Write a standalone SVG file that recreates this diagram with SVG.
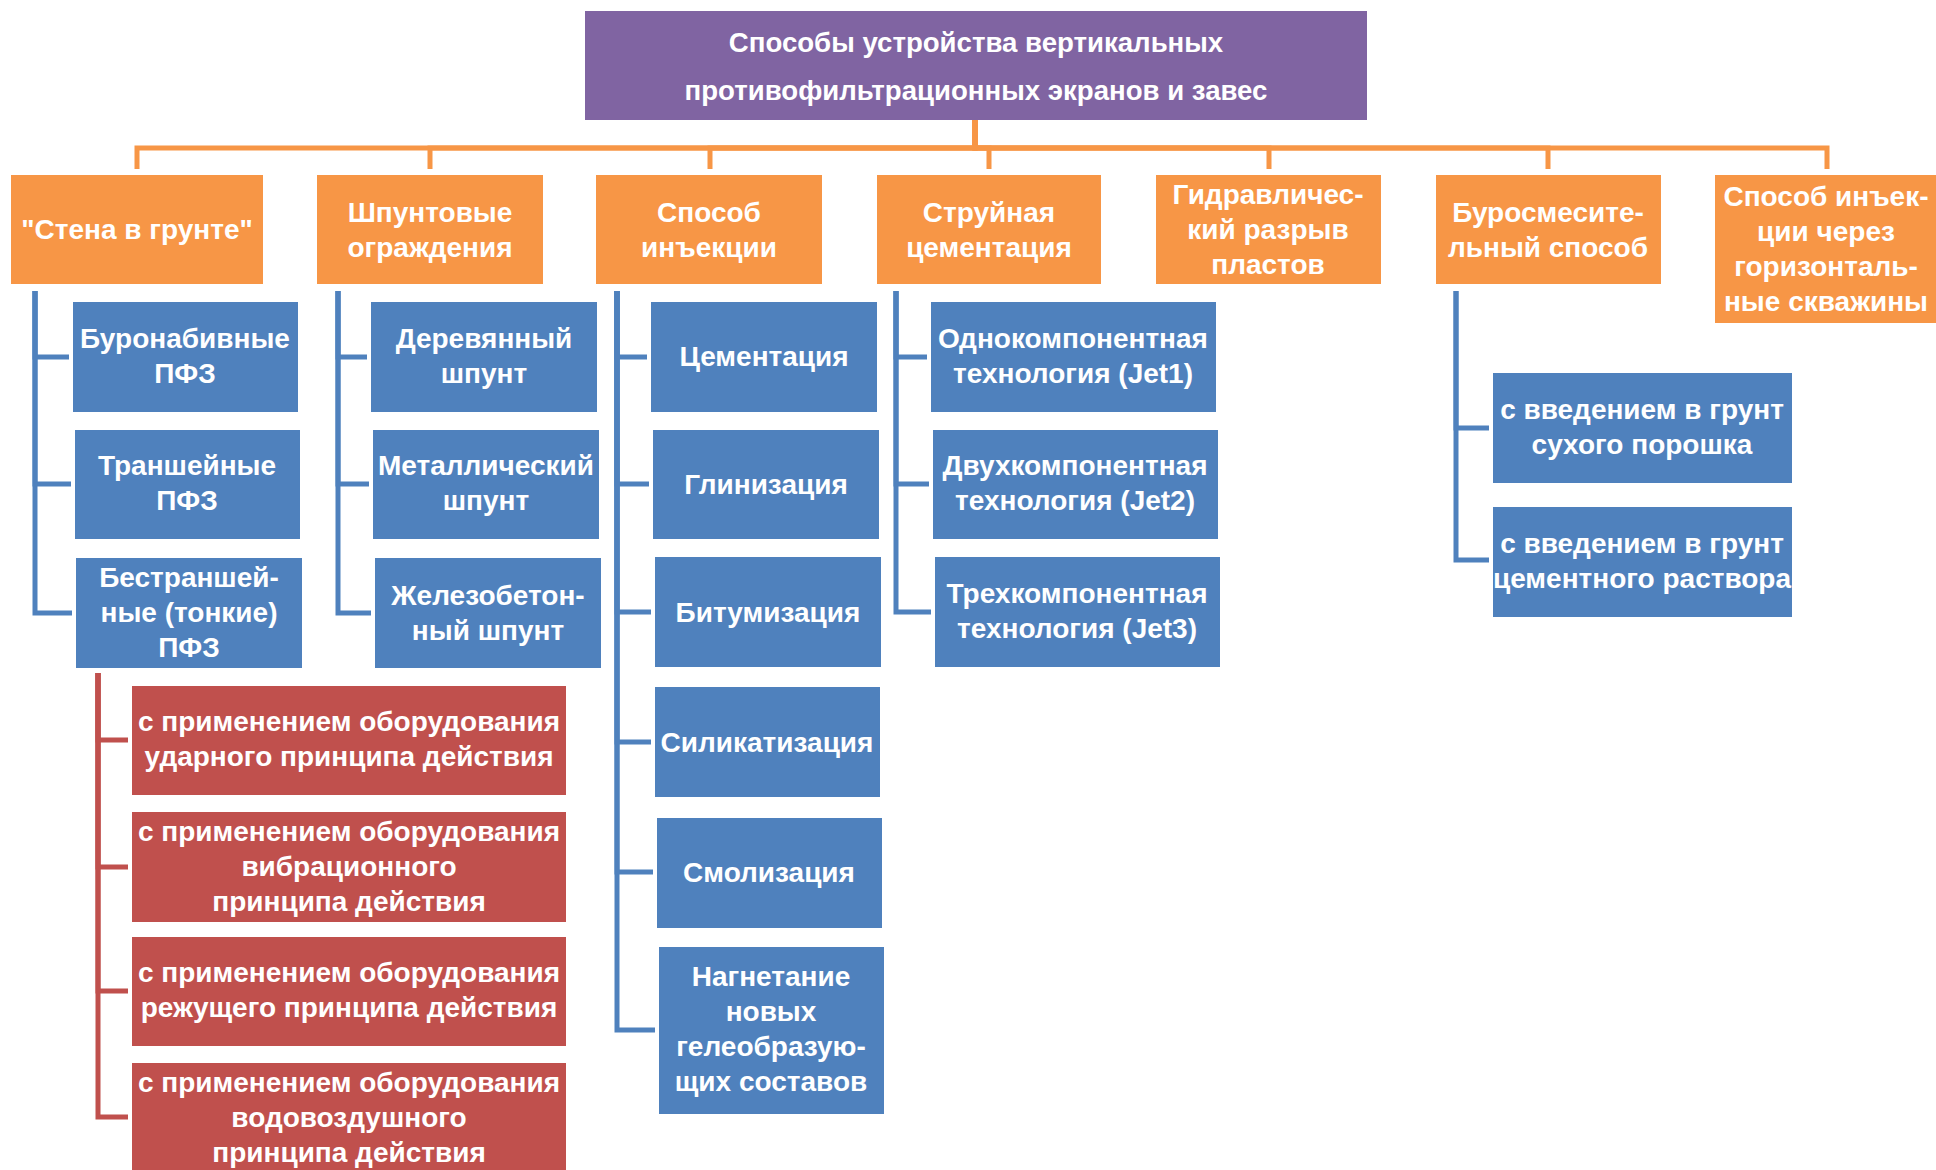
<svg xmlns="http://www.w3.org/2000/svg" width="1936" height="1170" viewBox="0 0 1936 1170">
<style>
.bg{fill:#ffffff}
.top{fill:#8064A2}
.or{fill:#F79646}
.bl{fill:#4F81BD}
.rd{fill:#C0504D}
text{font-family:"Liberation Sans",Arial,sans-serif;font-weight:bold;font-size:28px;fill:#ffffff;text-anchor:middle}
.t{font-size:27.6px}
.co{fill:none;stroke:#F79646;stroke-width:5}
.cb{fill:none;stroke:#4F81BD;stroke-width:5}
.cr{fill:none;stroke:#C0504D;stroke-width:5}
</style>
<rect class="bg" x="0" y="0" width="1936" height="1170"/>
<g id="connectors">
<path class="co" d="M975 120V148H137V169"/>
<path class="co" d="M975 120V148H430V169"/>
<path class="co" d="M975 120V148H710V169"/>
<path class="co" d="M975 120V148H989V169"/>
<path class="co" d="M975 120V148H1269V169"/>
<path class="co" d="M975 120V148H1548V169"/>
<path class="co" d="M975 120V148H1827V169"/>
<path class="cb" d="M35 291V357H69"/>
<path class="cb" d="M35 291V484H71"/>
<path class="cb" d="M35 291V613H72"/>
<path class="cb" d="M338 291V357H367"/>
<path class="cb" d="M338 291V484H369"/>
<path class="cb" d="M338 291V613H371"/>
<path class="cb" d="M617 291V357H647"/>
<path class="cb" d="M617 291V484H649"/>
<path class="cb" d="M617 291V612H651"/>
<path class="cb" d="M617 291V742H651"/>
<path class="cb" d="M617 291V872H653"/>
<path class="cb" d="M617 291V1030H655"/>
<path class="cb" d="M896 291V357H927"/>
<path class="cb" d="M896 291V484H929"/>
<path class="cb" d="M896 291V612H931"/>
<path class="cb" d="M1456 291V428H1489"/>
<path class="cb" d="M1456 291V560H1489"/>
<path class="cr" d="M98 673V740H128"/>
<path class="cr" d="M98 673V867H128"/>
<path class="cr" d="M98 673V991H128"/>
<path class="cr" d="M98 673V1117H128"/>
</g>
<g id="n-root"><rect class="top" x="585" y="11" width="782" height="109"/>
<text class="t" x="976" y="52">Способы устройства вертикальных</text>
<text class="t" x="976" y="100">противофильтрационных экранов и завес</text></g>

<g id="n-o1"><rect class="or" x="11" y="175" width="252" height="109"/><text x="137" y="239">"Стена в грунте"</text></g>
<g id="n-o2"><rect class="or" x="317" y="175" width="226" height="109"/><text x="430" y="222">Шпунтовые</text><text x="430" y="257">ограждения</text></g>
<g id="n-o3"><rect class="or" x="596" y="175" width="226" height="109"/><text x="709" y="222">Способ</text><text x="709" y="257">инъекции</text></g>
<g id="n-o4"><rect class="or" x="877" y="175" width="224" height="109"/><text x="989" y="222">Струйная</text><text x="989" y="257">цементация</text></g>
<g id="n-o5"><rect class="or" x="1156" y="175" width="225" height="109"/><text x="1268" y="204">Гидравличес-</text><text x="1268" y="239">кий разрыв</text><text x="1268" y="274">пластов</text></g>
<g id="n-o6"><rect class="or" x="1436" y="175" width="225" height="109"/><text x="1548" y="222">Буросмесите-</text><text x="1548" y="257">льный способ</text></g>
<g id="n-o7"><rect class="or" x="1715" y="175" width="221" height="148"/><text x="1826" y="206">Способ инъек-</text><text x="1826" y="241">ции через</text><text x="1826" y="276">горизонталь-</text><text x="1826" y="311">ные скважины</text></g>

<g id="n-b11"><rect class="bl" x="73" y="302" width="225" height="110"/><text x="185" y="348">Буронабивные</text><text x="185" y="383">ПФЗ</text></g>
<g id="n-b12"><rect class="bl" x="75" y="430" width="225" height="109"/><text x="187" y="475">Траншейные</text><text x="187" y="510">ПФЗ</text></g>
<g id="n-b13"><rect class="bl" x="76" y="558" width="226" height="110"/><text x="189" y="587">Бестраншей-</text><text x="189" y="622">ные (тонкие)</text><text x="189" y="657">ПФЗ</text></g>

<g id="n-b21"><rect class="bl" x="371" y="302" width="226" height="110"/><text x="484" y="348">Деревянный</text><text x="484" y="383">шпунт</text></g>
<g id="n-b22"><rect class="bl" x="373" y="430" width="226" height="109"/><text x="486" y="475">Металлический</text><text x="486" y="510">шпунт</text></g>
<g id="n-b23"><rect class="bl" x="375" y="558" width="226" height="110"/><text x="488" y="605">Железобетон-</text><text x="488" y="640">ный шпунт</text></g>

<g id="n-b31"><rect class="bl" x="651" y="302" width="226" height="110"/><text x="764" y="366">Цементация</text></g>
<g id="n-b32"><rect class="bl" x="653" y="430" width="226" height="109"/><text x="766" y="494">Глинизация</text></g>
<g id="n-b33"><rect class="bl" x="655" y="557" width="226" height="110"/><text x="768" y="622">Битумизация</text></g>
<g id="n-b34"><rect class="bl" x="655" y="687" width="225" height="110"/><text x="767" y="752">Силикатизация</text></g>
<g id="n-b35"><rect class="bl" x="657" y="818" width="225" height="110"/><text x="769" y="882">Смолизация</text></g>
<g id="n-b36"><rect class="bl" x="659" y="947" width="225" height="167"/><text x="771" y="986">Нагнетание</text><text x="771" y="1021">новых</text><text x="771" y="1056">гелеобразую-</text><text x="771" y="1091">щих составов</text></g>

<g id="n-b41"><rect class="bl" x="931" y="302" width="285" height="110"/><text x="1073" y="348">Однокомпонентная</text><text x="1073" y="383">технология (Jet1)</text></g>
<g id="n-b42"><rect class="bl" x="933" y="430" width="285" height="109"/><text x="1075" y="475">Двухкомпонентная</text><text x="1075" y="510">технология (Jet2)</text></g>
<g id="n-b43"><rect class="bl" x="935" y="557" width="285" height="110"/><text x="1077" y="603">Трехкомпонентная</text><text x="1077" y="638">технология (Jet3)</text></g>

<g id="n-b61"><rect class="bl" x="1493" y="373" width="299" height="110"/><text x="1642" y="419">с введением в грунт</text><text x="1642" y="454">сухого порошка</text></g>
<g id="n-b62"><rect class="bl" x="1493" y="507" width="299" height="110"/><text x="1642" y="553">с введением в грунт</text><text x="1642" y="588">цементного раствора</text></g>

<g id="n-r1"><rect class="rd" x="132" y="686" width="434" height="109"/><text x="349" y="731">с применением оборудования</text><text x="349" y="766">ударного принципа действия</text></g>
<g id="n-r2"><rect class="rd" x="132" y="812" width="434" height="110"/><text x="349" y="841">с применением оборудования</text><text x="349" y="876">вибрационного</text><text x="349" y="911">принципа действия</text></g>
<g id="n-r3"><rect class="rd" x="132" y="937" width="434" height="109"/><text x="349" y="982">с применением оборудования</text><text x="349" y="1017">режущего принципа действия</text></g>
<g id="n-r4"><rect class="rd" x="132" y="1063" width="434" height="110"/><text x="349" y="1092">с применением оборудования</text><text x="349" y="1127">водовоздушного</text><text x="349" y="1162">принципа действия</text></g>
</svg>
